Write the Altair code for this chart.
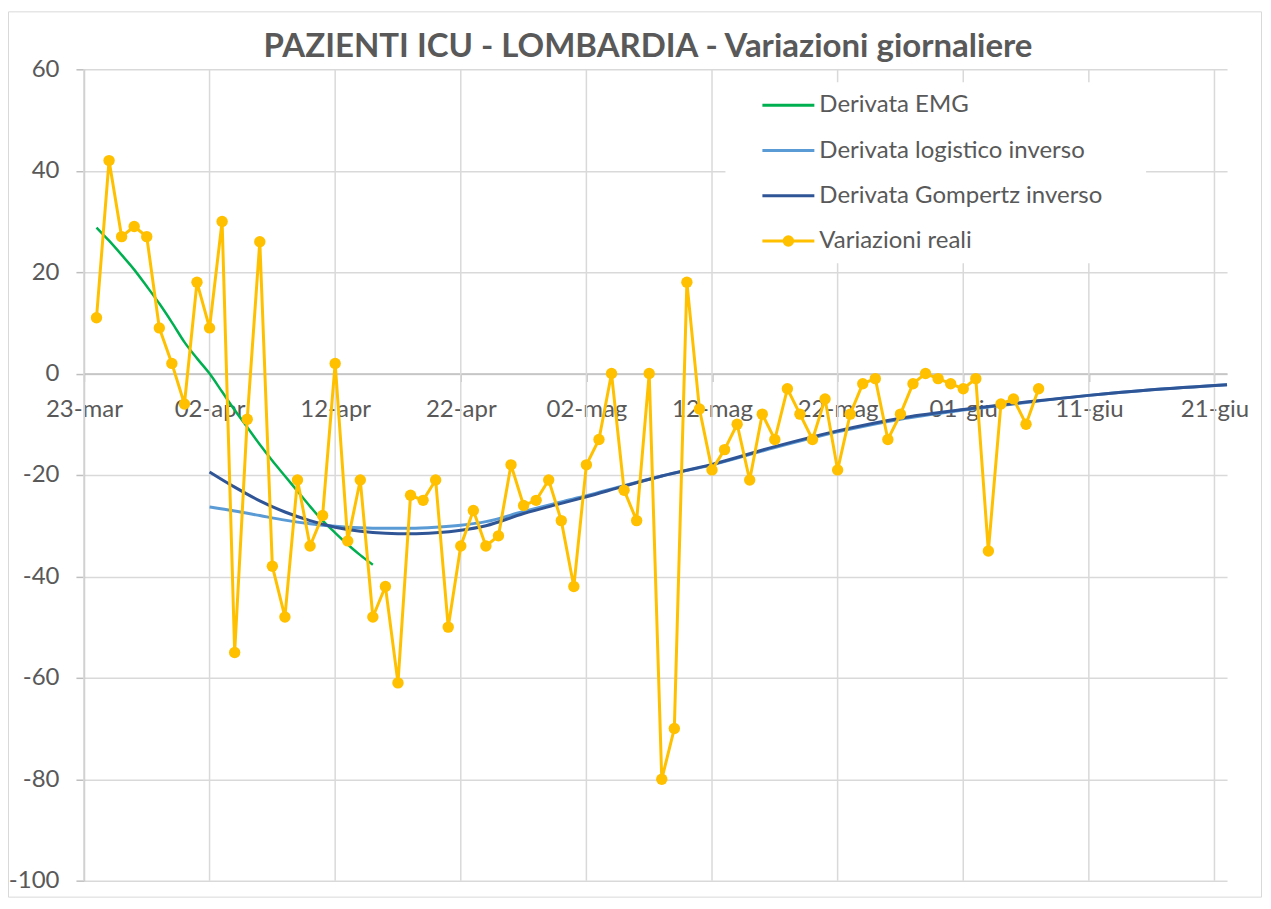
import altair as alt
import pandas as pd

# ---------------- data ----------------
title_text = "PAZIENTI ICU - LOMBARDIA - Variazioni giornaliere"
month_abbr = ["gen", "feb", "mar", "apr", "mag", "giu", "lug", "ago", "set", "ott", "nov", "dic"]
tick_dates = ["2020-03-23", "2020-04-02", "2020-04-12", "2020-04-22", "2020-05-02",
              "2020-05-12", "2020-05-22", "2020-06-01", "2020-06-11", "2020-06-21"]
y_ticks = [-100, -80, -60, -40, -20, 0, 20, 40, 60]

# Variazioni reali: daily from 24-mar to 07-giu
reali_start = "2020-03-24"
reali_values = [
    11, 42, 27, 29, 27, 9, 2, -6,
    18, 9, 30, -55, -9, 26, -38, -48, -21, -34, -28, 2, -33, -21, -48,
    -42, -61, -24, -25, -21, -50, -34, -27, -34, -32, -18, -26, -25, -21, -29,
    -42, -18, -13, 0, -23, -29, 0, -80, -70, 18, -7, -19, -15, -10, -21,
    -8, -13, -3, -8, -13, -5, -19, -8, -2, -1, -13, -8, -2, 0, -1, -2,
    -3, -1, -35, -6, -5, -10, -3,
]

# Derivata EMG: daily from 24-mar to 15-apr
emg_start = "2020-03-24"
emg_values = [28.8, 26.2, 23.4, 20.5, 17.2, 13.8, 10.1, 6.2, 3.0, 0.0,
              -3.6, -7.2, -10.6, -14.0, -17.2, -20.2, -23.2, -26.2, -29.0,
              -31.4, -33.7, -35.8, -37.7]

# Logistic / Gompertz inverse derivatives (days after 23-mar)
curve_days = [10, 12, 14, 16, 18, 20, 22, 24, 26, 28, 30, 32, 35, 38, 40, 43,
              46, 50, 55, 60, 65, 70, 75, 80, 85, 91]
gompertz_values = [-19.4, -22.4, -25.1, -27.3, -29.0, -30.3, -31.1, -31.5, -31.6,
                   -31.4, -30.9, -30.0, -27.6, -25.6, -24.3, -22.2, -20.2, -17.9,
                   -14.4, -11.3, -8.8, -7.1, -5.6, -4.3, -3.2, -2.2]
logistic_values = [-26.3, -27.1, -28.0, -28.9, -29.6, -30.1, -30.4, -30.5, -30.5,
                   -30.3, -29.9, -29.2, -27.2, -25.3, -24.1, -22.1, -20.2, -18.0,
                   -14.6, -11.5, -9.0, -7.2, -5.7, -4.3, -3.2, -2.2]

legend_labels = ["Derivata EMG", "Derivata logistico inverso",
                 "Derivata Gompertz inverso", "Variazioni reali"]

# ---------------- styles ----------------
C_GREEN = "#00B050"
C_LBLUE = "#5B9BD5"
C_DBLUE = "#2F5597"
C_YELLOW = "#FFC000"
C_TEXT = "#595959"
C_GRID = "#D9D9D9"
C_AXIS = "#BFBFBF"
FONT = "Lato"
FS = 24

W, H = 1144, 812
Y_MIN, Y_MAX = -100, 60
zero_offset = H * (0 - Y_MIN) / (Y_MAX - Y_MIN)

# ---------------- frames ----------------
base = pd.Timestamp("2020-03-23")
reali_df = pd.DataFrame({
    "date": pd.date_range(reali_start, periods=len(reali_values), freq="D"),
    "value": reali_values,
})
emg_df = pd.DataFrame({
    "date": pd.date_range(emg_start, periods=len(emg_values), freq="D"),
    "value": emg_values,
})
gom_df = pd.DataFrame({
    "date": [base + pd.Timedelta(days=d) for d in curve_days],
    "value": gompertz_values,
})
log_df = pd.DataFrame({
    "date": [base + pd.Timedelta(days=d) for d in curve_days],
    "value": logistic_values,
})
grid_df = pd.DataFrame({"date": pd.to_datetime(tick_dates)})


def dt(s):
    t = pd.Timestamp(s)
    return alt.DateTime(year=t.year, month=t.month, date=t.day)


month_js = "[" + ",".join("'%s'" % m for m in month_abbr) + "]"
x_axis = alt.Axis(
    values=[dt(s) for s in tick_dates],
    labelExpr="timeFormat(datum.value, '%d') + '-' + " + month_js + "[month(datum.value)]",
    offset=-zero_offset,
    grid=False,
    domainColor=C_AXIS, domainWidth=1.5,
    tickColor=C_AXIS, tickWidth=1.5, tickSize=8,
    labelPadding=35, labelBaseline="alphabetic",
    labelFont=FONT, labelFontSize=FS, labelColor=C_TEXT,
    labelAlign="center", labelFlush=False, labelOverlap=False,
    title=None,
)
y_axis = alt.Axis(
    values=y_ticks,
    labelExpr="'' + datum.value",
    grid=True, gridColor=C_GRID, gridWidth=1.5,
    domainColor=C_AXIS, domainWidth=1.5,
    tickColor=C_AXIS, tickWidth=1.5, tickSize=8,
    labelPadding=17, labelFont=FONT, labelFontSize=FS, labelColor=C_TEXT,
    title=None,
)

x_enc = alt.X("date:T",
              scale=alt.Scale(domain=[dt("2020-03-23"), dt("2020-06-22")], nice=False),
              axis=x_axis)
y_enc = alt.Y("value:Q",
              scale=alt.Scale(domain=[Y_MIN, Y_MAX], nice=False, zero=False),
              axis=y_axis)

vgrid = alt.Chart(grid_df).mark_rule(color=C_GRID, strokeWidth=1.5).encode(x=x_enc)

emg = alt.Chart(emg_df).mark_line(color=C_GREEN, strokeWidth=2.5, interpolate="monotone").encode(x=x_enc, y=y_enc)
logi = alt.Chart(log_df).mark_line(color=C_LBLUE, strokeWidth=3, interpolate="monotone").encode(x=x_enc, y=y_enc)
gomp = alt.Chart(gom_df).mark_line(color=C_DBLUE, strokeWidth=3, interpolate="monotone").encode(x=x_enc, y=y_enc)
reali_line = alt.Chart(reali_df).mark_line(color=C_YELLOW, strokeWidth=3).encode(x=x_enc, y=y_enc)
reali_pts = alt.Chart(reali_df).mark_point(filled=True, size=130, color=C_YELLOW, opacity=1).encode(x=x_enc, y=y_enc)

one = alt.Data(values=[{}])

# title
title = alt.Chart(one).mark_text(
    font=FONT, fontSize=33, fontWeight="bold", color=C_TEXT,
    align="center", baseline="alphabetic",
).encode(x=alt.value(564.5), y=alt.value(-12), text=alt.value(title_text))

# chart-area border
border = alt.Chart(one).mark_rect(fillOpacity=0, stroke=C_GRID, strokeWidth=1).encode(
    x=alt.value(-75.5), x2=alt.value(W + 34.5), y=alt.value(-57.5), y2=alt.value(H + 16.5)
)

# legend (manual)
leg_layers = [
    alt.Chart(one).mark_rect(color="white").encode(
        x=alt.value(642), x2=alt.value(1063), y=alt.value(13), y2=alt.value(194))
]
leg_colors = [C_GREEN, C_LBLUE, C_DBLUE, C_YELLOW]
for i, (lab, col) in enumerate(zip(legend_labels, leg_colors)):
    yy = 36 + 45.3 * i
    leg_layers.append(alt.Chart(one).mark_rule(color=col, strokeWidth=3).encode(
        x=alt.value(679), x2=alt.value(731), y=alt.value(yy)))
    leg_layers.append(alt.Chart(one).mark_text(
        align="left", baseline="middle", font=FONT, fontSize=FS, color=C_TEXT
    ).encode(x=alt.value(736), y=alt.value(yy), text=alt.value(lab)))
    if i == 3:
        leg_layers.append(alt.Chart(one).mark_point(
            filled=True, size=130, color=col, opacity=1
        ).encode(x=alt.value(705), y=alt.value(yy)))

chart = alt.layer(
    vgrid, emg, logi, gomp, reali_line, reali_pts, *leg_layers, title, border
).properties(
    width=W, height=H,
    autosize=alt.AutoSizeParams(type="none"),
    padding={"left": 76, "top": 61, "right": 36, "bottom": 18},
    background="white",
).configure_view(strokeWidth=0)

chart.save("out.html", embed_options={"renderer": "svg", "actions": False})
